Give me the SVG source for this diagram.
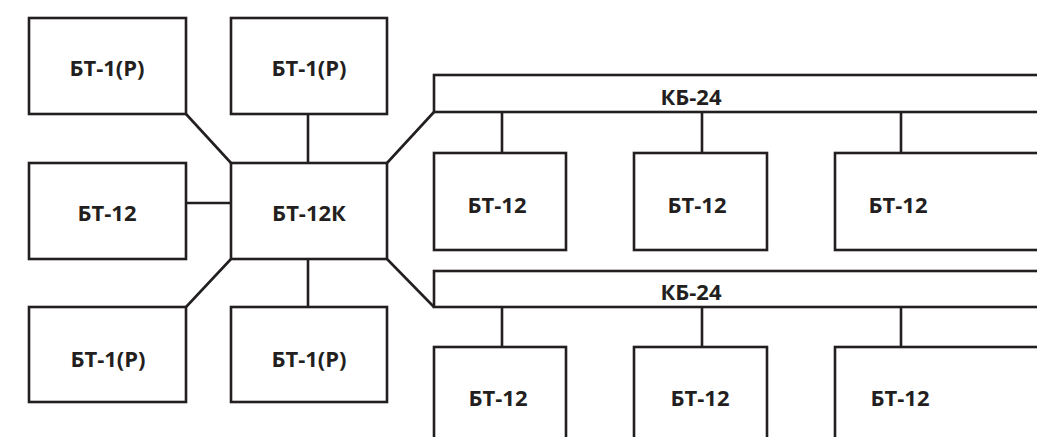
<svg xmlns="http://www.w3.org/2000/svg" width="1037" height="437" viewBox="0 0 1037 437">
<style>
.b{fill:#fff;stroke:#231f20;stroke-width:2.6}
.c{fill:none;stroke:#231f20;stroke-width:2.6}
text{font-family:"Open Sans","Liberation Sans",sans-serif;font-weight:bold;font-size:22px;fill:#231f20;text-anchor:middle}
</style>
<rect width="1037" height="437" fill="#fff"/>
<g id="connectors">
<path class="c" d="M186 114 L231 163"/>
<path class="c" d="M308 114 V163"/>
<path class="c" d="M186 203 H231"/>
<path class="c" d="M231 259 L186 307"/>
<path class="c" d="M308 259 V307"/>
<path class="c" d="M387 163 L434 112"/>
<path class="c" d="M387 259 L434 307"/>
<path class="c" d="M502 112 V153 M702 112 V153 M901 112 V153"/>
<path class="c" d="M502 307 V347 M702 307 V347 M901 307 V347"/>
</g>
<g id="n1"><rect class="b" x="29" y="18" width="157" height="96"/><text x="107" y="76">БТ-1(Р)</text></g>
<g id="n2"><rect class="b" x="231" y="18" width="156" height="96"/><text x="309" y="76">БТ-1(Р)</text></g>
<g id="n3"><rect class="b" x="29" y="163" width="157" height="96"/><text x="107" y="221">БТ-12</text></g>
<g id="n4"><rect class="b" x="231" y="163" width="156" height="96"/><text x="309" y="221">БТ-12К</text></g>
<g id="n5"><rect class="b" x="29" y="307" width="157" height="95"/><text x="108" y="367">БТ-1(Р)</text></g>
<g id="n6"><rect class="b" x="231" y="307" width="156" height="95"/><text x="309" y="367">БТ-1(Р)</text></g>
<g id="kb1"><rect class="b" x="434" y="75" width="620" height="37"/><text x="691" y="105">КБ-24</text></g>
<g id="kb2"><rect class="b" x="434" y="271" width="620" height="36"/><text x="691" y="300">КБ-24</text></g>
<g id="r1a"><rect class="b" x="434" y="153" width="132" height="97"/><text x="497" y="213">БТ-12</text></g>
<g id="r1b"><rect class="b" x="634" y="153" width="133" height="97"/><text x="697" y="213">БТ-12</text></g>
<g id="r1c"><rect class="b" x="835" y="153" width="220" height="97"/><text x="898" y="213">БТ-12</text></g>
<g id="r2a"><rect class="b" x="434" y="347" width="132" height="110"/><text x="498" y="406">БТ-12</text></g>
<g id="r2b"><rect class="b" x="634" y="347" width="133" height="110"/><text x="700" y="406">БТ-12</text></g>
<g id="r2c"><rect class="b" x="835" y="347" width="220" height="110"/><text x="900" y="406">БТ-12</text></g>
</svg>
